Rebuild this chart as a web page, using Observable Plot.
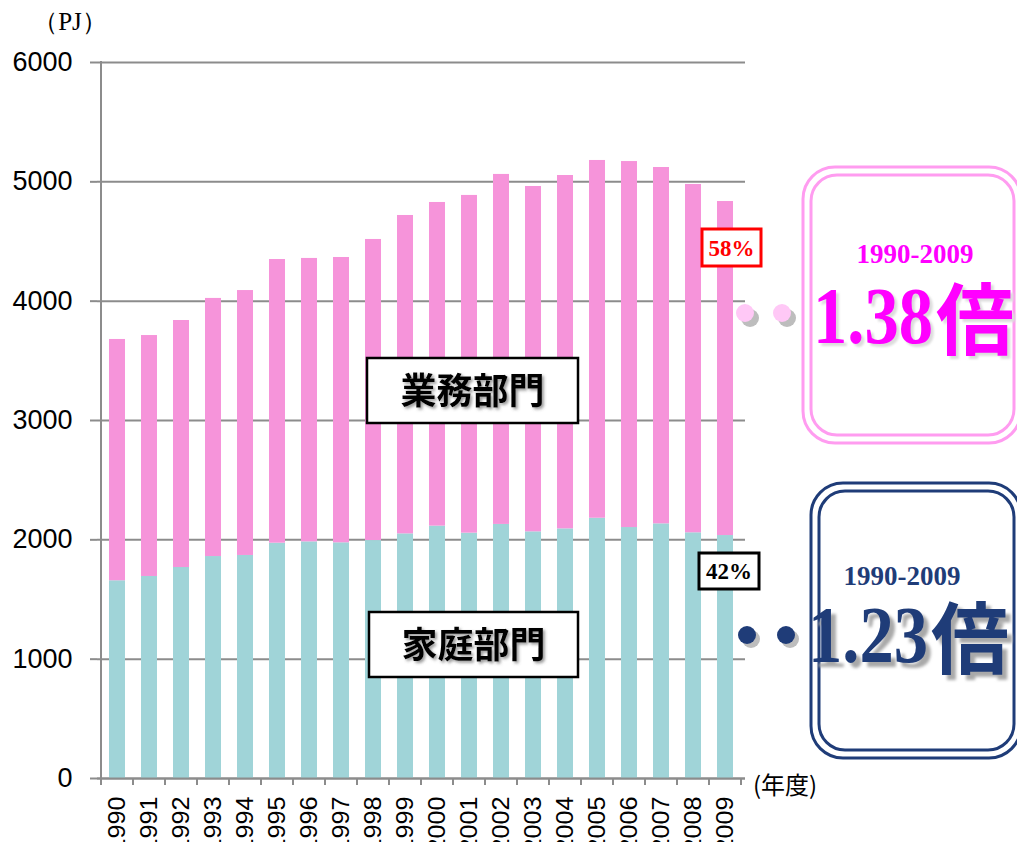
<!DOCTYPE html>
<html>
<head>
<meta charset="utf-8">
<script src="https://cdn.jsdelivr.net/npm/d3@7"></script>
<script src="https://cdn.jsdelivr.net/npm/@observablehq/plot@0.6"></script>
<style>
  html, body { margin: 0; padding: 0; background: white; }
  #chart svg { display: block; }
</style>
</head>
<body>
<div id="chart"></div>
<script>
const years = ["1990","1991","1992","1993","1994","1995","1996","1997","1998","1999",
               "2000","2001","2002","2003","2004","2005","2006","2007","2008","2009"];
const household = [1657,1693,1768,1860,1869,1972,1983,1975,1994,2050,
                   2115,2056,2129,2067,2092,2181,2103,2134,2059,2036];
const commercial = [2022,2019,2070,2163,2220,2377,2375,2391,2523,2668,
                    2712,2830,2933,2894,2961,2998,3067,2986,2919,2799];
const sectors = ["家庭部門","業務部門"];
const sectorColors = ["#a0d4d8","#f694da"];
const yTicks = [0,1000,2000,3000,4000,5000,6000];

const data = years.flatMap((yr, i) => [
  {year: yr, sector: sectors[0], value: household[i]},
  {year: yr, sector: sectors[1], value: commercial[i]}
]);

const GRAY = "#8c8c8c";
const chart = Plot.plot({
  width: 1017,
  height: 842,
  marginLeft: 97,
  marginRight: 272,
  marginTop: 62,
  marginBottom: 64,
  style: {fontFamily: "'Liberation Sans', Arial, sans-serif", background: "white", color: "black"},
  x: {type: "band", domain: years, paddingInner: 0.5, paddingOuter: 0.25, label: null},
  y: {domain: [0, 6000], label: null},
  color: {domain: sectors, range: sectorColors},
  marks: [
    Plot.gridY(yTicks, {stroke: GRAY, strokeOpacity: 1, strokeWidth: 2}),
    Plot.barY(data, {x: "year", y: "value", fill: "sector"}),
    Plot.axisY(yTicks, {tickSize: 7, tickPadding: 18, fontSize: 27, tickFormat: d3.format("d"), stroke: GRAY, strokeWidth: 2, label: null}),
    Plot.axisX({tickSize: 0, tickRotate: -90, tickPadding: 18, fontSize: 24, label: null}),
    Plot.ruleY([0], {stroke: GRAY, strokeWidth: 2})
  ]
});
document.getElementById("chart").appendChild(chart);

const svg = d3.select(chart);
const xs = chart.scale("x");
const ys = chart.scale("y");
const step = xs.step, bw = xs.bandwidth;
const y0 = ys.apply(0), yTop = ys.apply(6000);

// stretch x tick labels slightly along their direction
svg.selectAll('g[aria-label="x-axis tick label"] text').each(function() {
  const t = this.getAttribute("transform") || "";
  this.setAttribute("transform", t + " scale(1.05,1)");
});

// y axis line and x tick marks at band boundaries
const bounds = years.map(v => xs.apply(v) - (step - bw) / 2);
bounds.push(bounds[bounds.length - 1] + step);
svg.append("line").attr("x1", bounds[0]).attr("x2", bounds[0]).attr("y1", yTop - 1).attr("y2", y0 + 7)
  .attr("stroke", GRAY).attr("stroke-width", 2);
svg.append("g").selectAll("line").data(bounds).join("line")
  .attr("x1", d => d).attr("x2", d => d).attr("y1", y0).attr("y2", y0 + 7)
  .attr("stroke", GRAY).attr("stroke-width", 2);

// defs
const defs = svg.append("defs");
const f1 = defs.append("filter").attr("id", "tshadow").attr("x", "-20%").attr("y", "-20%").attr("width", "140%").attr("height", "140%");
f1.append("feDropShadow").attr("dx", 2).attr("dy", 2).attr("stdDeviation", 1.5).attr("flood-color", "#555").attr("flood-opacity", 0.6);
const f2 = defs.append("filter").attr("id", "blur1");
f2.append("feGaussianBlur").attr("stdDeviation", 1.2);
const f3 = defs.append("filter").attr("id", "blur2");
f3.append("feGaussianBlur").attr("stdDeviation", 1.8);

const ann = svg.append("g").attr("text-anchor", "start");
const SERIF = "'Liberation Serif', 'Times New Roman', serif";
const JP = "'Noto Sans CJK JP', sans-serif";

// unit labels
ann.append("text").attr("x", 70).attr("y", 30).attr("text-anchor", "middle")
  .attr("font-family", SERIF).attr("font-size", 25).text("（PJ）");
ann.append("text").attr("x", 753).attr("y", 794).attr("text-anchor", "start")
  .attr("font-family", JP).attr("font-size", 24).text("(年度)");

// sector label boxes
function labelBox(x, y, w, h, txt) {
  ann.append("rect").attr("x", x).attr("y", y).attr("width", w).attr("height", h)
    .attr("fill", "white").attr("stroke", "black").attr("stroke-width", 2.5);
  ann.append("text").attr("x", x + w / 2).attr("y", y + h / 2 + 13).attr("text-anchor", "middle")
    .attr("font-family", JP).attr("font-weight", "bold").attr("font-size", 36)
    .attr("filter", "url(#tshadow)").text(txt);
}
labelBox(367, 358, 211, 65, "業務部門");
labelBox(369, 612, 209, 65, "家庭部門");

// percentage boxes
function pctBox(x, y, w, h, col, txt) {
  ann.append("rect").attr("x", x).attr("y", y).attr("width", w).attr("height", h)
    .attr("fill", "white").attr("stroke", col).attr("stroke-width", 3);
  ann.append("text").attr("x", x + w / 2).attr("y", y + h / 2 + 8).attr("text-anchor", "middle")
    .attr("font-family", SERIF).attr("font-weight", "bold").attr("font-size", 23)
    .attr("fill", col).text(txt);
}
pctBox(702, 229, 59, 37, "#ff0000", "58%");
pctBox(699, 553, 60, 36, "#000000", "42%");

// dots
function dots(cy, xs2, col, shadow, off) {
  xs2.forEach(cx => {
    ann.append("circle").attr("cx", cx + off).attr("cy", cy + off).attr("r", 9).attr("fill", shadow);
    ann.append("circle").attr("cx", cx).attr("cy", cy).attr("r", 9).attr("fill", col);
  });
}
dots(313, [745, 782], "#ffc8f6", "#bdbdbd", 5);
dots(635, [747, 786], "#1f3c78", "#bdbdbd", 4);

// rounded double boxes
function dblBox(x, y, w, h, col) {
  ann.append("rect").attr("x", x).attr("y", y).attr("width", w).attr("height", h).attr("rx", 32)
    .attr("fill", "white").attr("stroke", col).attr("stroke-width", 3);
  ann.append("rect").attr("x", x + 8).attr("y", y + 8).attr("width", w - 15).attr("height", h - 16).attr("rx", 26)
    .attr("fill", "none").attr("stroke", col).attr("stroke-width", 3);
}
dblBox(803, 167, 218, 276, "#ff9cf0");
dblBox(811, 483, 210, 275, "#1f3c78");

// pink ratio text
ann.append("text").attr("x", 915).attr("y", 263).attr("text-anchor", "middle")
  .attr("font-family", SERIF).attr("font-weight", "bold").attr("font-size", 27)
  .attr("fill", "#ff00ff").text("1990-2009");
function bigText(x, y, num, col, shadowCol, off, filt) {
  const g = ann.append("g");
  [[shadowCol, off], [col, 0]].forEach(([c, o], k) => {
    const gg = g.append("g").attr("transform", `translate(${o},${o})`);
    if (k === 0 && filt) gg.attr("filter", filt);
    gg.append("text").attr("x", x).attr("y", y).attr("text-anchor", "start")
      .attr("font-family", SERIF).attr("font-weight", "bold").attr("font-size", 80)
      .attr("textLength", 120).attr("lengthAdjust", "spacingAndGlyphs")
      .attr("fill", c).text(num);
    gg.append("text").attr("x", x + 123).attr("y", y + 6).attr("text-anchor", "start")
      .attr("font-family", JP).attr("font-weight", "bold").attr("font-size", 78)
      .attr("fill", c).text("倍");
  });
}
bigText(813, 343, "1.38", "#ff00ff", "#dcdcdc", 3, "url(#blur1)");

// navy ratio text
ann.append("text").attr("x", 902).attr("y", 585).attr("text-anchor", "middle")
  .attr("font-family", SERIF).attr("font-weight", "bold").attr("font-size", 27)
  .attr("fill", "#1f3c78").text("1990-2009");
bigText(808, 662, "1.23", "#1f3c78", "#a9a9a9", 5, "url(#blur2)");
</script>
</body>
</html>
